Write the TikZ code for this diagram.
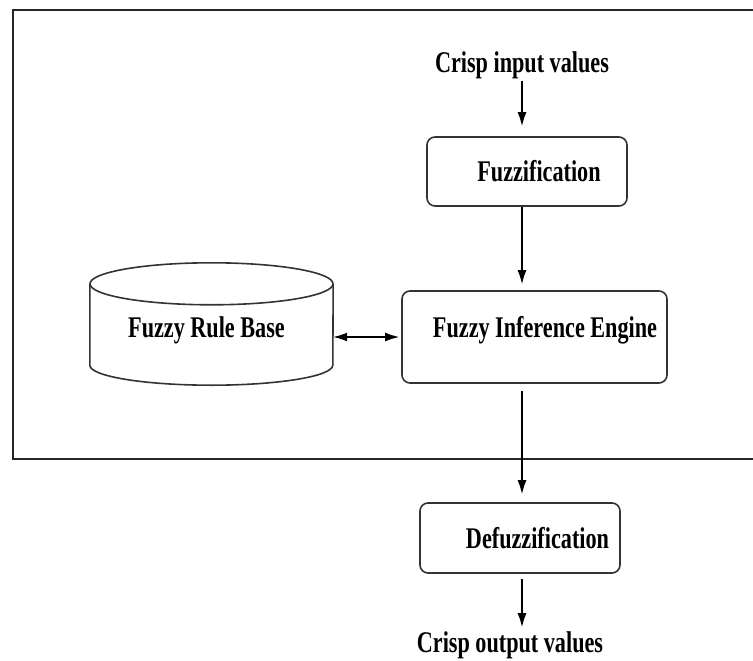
\documentclass[tikz,border=0pt]{standalone}
\usepackage{fontspec}
\newfontfamily\diagfont{Liberation Serif}[FakeStretch=0.74]
\usetikzlibrary{arrows.meta}

\begin{document}
\begin{tikzpicture}[x=1pt,y=-1pt,
    stage/.style ={rectangle, rounded corners=8pt, draw=black!80, line width=1.6pt,
      font=\diagfont\bfseries\fontsize{30}{33}\selectfont},
    label text/.style ={inner sep=2pt, font=\diagfont\bfseries\fontsize{30}{33}\selectfont},
    nudge/.style ={execute at begin node={\hspace*{#1}}},
    flow/.style ={-{Latex[length=14pt,width=9pt]}, line width=1.4pt}]
   \useasboundingbox (0,0) rectangle (753,661);
   % frame
   \draw[line width=1.6pt, black!85] (753,10) -- (13,10) -- (13,459) -- (753,459);

   \node[label text] (input) at (522,65) {Crisp input values};
   \node[stage, nudge=24pt, minimum width=200pt, minimum height=69pt] (fuzz) at (527,171.5) {Fuzzification};
   \node[stage, nudge=21pt, text height=10pt, text depth=10pt, minimum width=265pt, minimum height=92pt] (fie) at (534.5,337) {Fuzzy Inference Engine};
   \node[label text, nudge=-10pt, text height=25pt, text depth=0pt, minimum width=243pt, minimum height=81pt] (rulebase) at (211.5,324.5) {Fuzzy Rule Base};
   \node[stage, nudge=35pt, minimum width=200pt, minimum height=70pt] (defuzz) at (520,538) {Defuzzification};
   \node[label text] (output) at (510,645) {Crisp output values};

   % rule base drum
   \draw[line width=1.6pt, black!80] (rulebase.north) ellipse [x radius=121.5pt, y radius=21pt];
   \draw[line width=1.6pt, black!80] (rulebase.north west) -- (rulebase.south west)
      arc [start angle=180, end angle=360, x radius=121.5pt, y radius=20pt] -- (rulebase.north east);

   \draw[flow, shorten >=10pt] (input.south) -- (input.south |- fuzz.north);
   \draw[flow, shorten >=6pt] (input |- fuzz.south) -- (input |- fie.north);
   \draw[flow, shorten <=7pt, shorten >=8pt] (input |- fie.south) -- (input |- defuzz.north);
   \draw[flow, shorten <=5pt, shorten >=2pt] (input |- defuzz.south) -- (input |- output.north);
   \draw[flow, {Latex[length=14pt,width=9pt]}-{Latex[length=14pt,width=9pt]}, shorten >=2pt] (rulebase.east |- fie.west) -- (fie.west);
\end{tikzpicture}
\end{document}
